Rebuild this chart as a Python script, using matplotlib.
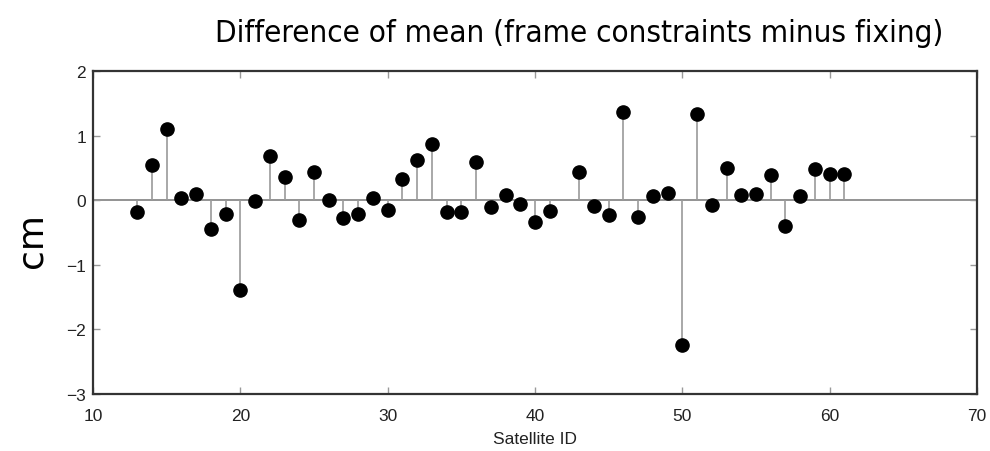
import matplotlib
matplotlib.use("Agg")
import matplotlib.pyplot as plt
import numpy as np

sat_ids = [13, 14, 15, 16, 17, 18, 19, 20, 21, 22, 23, 24, 25, 26, 27, 28, 29,
           30, 31, 32, 33, 34, 35, 36, 37, 38, 39, 40, 41, 43, 44, 45, 46, 47,
           48, 49, 50, 51, 52, 53, 54, 55, 56, 57, 58, 59, 60, 61]
diff_cm = [-0.19, 0.55, 1.10, 0.04, 0.09, -0.45, -0.22, -1.39, -0.01, 0.68,
           0.36, -0.31, 0.43, 0.01, -0.28, -0.22, 0.03,
           -0.15, 0.33, 0.63, 0.87, -0.19, -0.19, 0.59, -0.10, 0.08, -0.06,
           -0.34, -0.16, 0.44, -0.09, -0.23, 1.37, -0.26,
           0.07, 0.11, -2.24, 1.33, -0.07, 0.50, 0.08, 0.09, 0.39, -0.40,
           0.06, 0.49, 0.41, 0.40]
x_ticks = [10, 20, 30, 40, 50, 60, 70]
y_ticks = [-3, -2, -1, 0, 1, 2]
title_text = "Difference of mean (frame constraints minus fixing)"
x_label = "Satellite ID"
y_label = "cm"

fig = plt.figure(figsize=(9.9, 4.52), dpi=100)
ax = fig.add_axes([93/990, 57/452, 884/990, 323/452])

ax.axhline(0, color="#8a8a8a", lw=1.3, zorder=1)
ax.vlines(sat_ids, 0, diff_cm, color="#9a9a9a", lw=1.2, zorder=2)
ax.plot(sat_ids, diff_cm, "o", color="black", markersize=9.5, zorder=3)

ax.set_xlim(10, 70)
ax.set_ylim(-3, 2)
ax.set_xticks(x_ticks)
ax.set_yticks(y_ticks)
ax.set_yticklabels([str(v).replace("-", "\u2212") for v in y_ticks])
ax.tick_params(direction="in", length=5, width=1, color="#999999",
               top=True, right=True, labelsize=12.5, labelcolor="#222222")
ax.tick_params(axis="x", pad=10)
ax.tick_params(axis="y", pad=5)
for lab in ax.get_xticklabels() + ax.get_yticklabels():
    lab.set_fontfamily("Liberation Sans")
for s in ax.spines.values():
    s.set_color("#333333")
    s.set_linewidth(1.6)

ax.set_xlabel(x_label, fontsize=12.5, family="Liberation Sans", color="#222222", labelpad=6)

fig.text(579/990, 1 - 33/452, title_text, ha="center", va="center",
         fontsize=22.5, family="DejaVu Sans", fontstretch="condensed", color="black")
fig.text(31/990, 1 - 241/452, y_label, ha="center", va="center", rotation=90,
         fontsize=26, family="DejaVu Sans", color="black")

fig.savefig("out.png", dpi=100)
